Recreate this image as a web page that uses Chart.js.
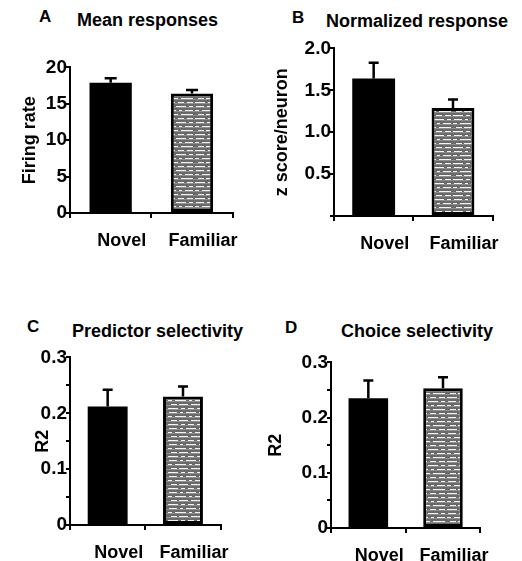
<!DOCTYPE html>
<html lang="en">
  <head>
    <meta charset="UTF-8">
    <title>Novel vs familiar</title>
    <script src="https://cdn.jsdelivr.net/npm/chart.js"></script>
    <style>
      body { margin: 0; background: #fff; }
      #fig { position: relative; width: 522px; height: 561px; font-family: "Liberation Sans", Arial, sans-serif; font-weight: bold; color: #000; }
      .box { position: absolute; }
      .lbl { position: absolute; line-height: 1; white-space: nowrap; }
      .let { font-size: 17px; }
      .ttl { font-size: 18px; }
    </style>
  </head>
  <body>
    <div id="fig">
      <span class="lbl let" style="left:39px;top:8px">A</span>
      <span class="lbl ttl" style="left:77px;top:11px">Mean responses</span>
      <span class="lbl let" style="left:292px;top:9px">B</span>
      <span class="lbl ttl" style="left:326px;top:12px">Normalized response</span>
      <span class="lbl let" style="left:27px;top:318px">C</span>
      <span class="lbl ttl" style="left:72px;top:322px">Predictor selectivity</span>
      <span class="lbl let" style="left:285px;top:319px">D</span>
      <span class="lbl ttl" style="left:341px;top:322px">Choice selectivity</span>

      <div class="box" style="left:10px;top:57px;width:229px;height:196px"><canvas id="cA"></canvas></div>
      <div class="box" style="left:268px;top:38px;width:232px;height:218px"><canvas id="cB"></canvas></div>
      <div class="box" style="left:20px;top:347px;width:210px;height:214px"><canvas id="cC"></canvas></div>
      <div class="box" style="left:262px;top:352px;width:228px;height:209px"><canvas id="cD"></canvas></div>
    </div>

    <script>
      const groups = ["Novel", "Familiar"];

      const firingRate = [17.9, 16.4];
      const firingRateErr = [0.6, 0.5];

      const zScore = [1.64, 1.29];
      const zScoreErr = [0.19, 0.10];

      const predictorR2 = [0.212, 0.23];
      const predictorR2Err = [0.03, 0.018];

      const choiceR2 = [0.235, 0.253];
      const choiceR2Err = [0.032, 0.02];

      const FONT = "'Liberation Sans', Arial, sans-serif";

      // grey fill with broken white horizontal streaks, staggered row to row
      function stripes() {
        const c = document.createElement("canvas");
        c.width = 37; c.height = 16;
        const g = c.getContext("2d");
        g.fillStyle = "#6a6a6a";
        g.fillRect(0, 0, 37, 16);
        const rows = [
          [[1, 8], [12, 3], [18, 10], [31, 4]],
          [[0, 4], [7, 11], [21, 3], [27, 8]],
          [[3, 6], [11, 9], [23, 12]],
          [[0, 10], [13, 4], [20, 6], [29, 6]]
        ];
        rows.forEach((segs, r) => {
          g.fillStyle = "#8e8e8e";
          g.fillRect(0, r * 4 + 2, 37, 1);
          g.fillStyle = "#f4f4f4";
          segs.forEach(([x, w]) => g.fillRect(x, r * 4 + 1, w, 1));
        });
        return g.createPattern(c, "repeat");
      }

      // upward error bars with a cap
      const errorBars = {
        id: "errorBars",
        afterDatasetsDraw(chart, args, opts) {
          const ctx = chart.ctx;
          const ys = chart.scales.y;
          const ds = chart.data.datasets[0];
          chart.getDatasetMeta(0).data.forEach((bar, i) => {
            const top = ys.getPixelForValue(ds.data[i] + opts.err[i]);
            ctx.save();
            ctx.strokeStyle = "#000";
            ctx.lineWidth = 2.5;
            ctx.beginPath();
            ctx.moveTo(bar.x, bar.y);
            ctx.lineTo(bar.x, top);
            ctx.moveTo(bar.x - opts.cap, top);
            ctx.lineTo(bar.x + opts.cap, top);
            ctx.stroke();
            ctx.restore();
          });
        }
      };

      function panel(id, values, errs, cfg) {
        new Chart(document.getElementById(id), {
          type: "bar",
          data: {
            labels: groups,
            datasets: [{
              data: values,
              backgroundColor: ["#000", stripes()],
              borderColor: "#000",
              borderWidth: [0, 3],
              borderSkipped: false,
              barPercentage: cfg.barPct,
              categoryPercentage: 1
            }]
          },
          options: {
            responsive: true,
            maintainAspectRatio: false,
            animation: false,
            events: [],
            layout: { autoPadding: false, padding: { top: 10, right: 2 } },
            plugins: {
              legend: { display: false },
              tooltip: { enabled: false },
              errorBars: { err: errs, cap: cfg.cap }
            },
            scales: {
              x: {
                afterFit: s => { s.height = cfg.xh; },
                border: { display: true, color: "#000", width: 2 },
                grid: { drawOnChartArea: false, drawTicks: true, tickLength: 5, color: "#000", lineWidth: 2 },
                ticks: { color: "#000", font: { family: FONT, size: 18, weight: "bold" }, padding: 12, labelOffset: 11 }
              },
              y: {
                min: 0,
                max: cfg.max,
                afterFit: s => { s.width = cfg.yw; },
                afterBuildTicks: s => { s.ticks = cfg.ticks.map(v => ({ value: v })); },
                border: { display: true, color: "#000", width: 2 },
                grid: { drawOnChartArea: false, drawTicks: true, tickLength: 4, color: "#000", lineWidth: 2 },
                ticks: { color: "#000", font: { family: FONT, size: 19, weight: "bold" }, padding: -1, callback: cfg.fmt },
                title: { display: true, text: cfg.title, color: "#000", font: { family: FONT, size: 18, weight: "bold" }, padding: { top: cfg.tpad, bottom: 0 } }
              }
            }
          },
          plugins: [errorBars]
        });
      }

      const r2Ticks = [0, 0.05, 0.1, 0.15, 0.2, 0.25, 0.3];
      const r2Fmt = v => {
        if (v === 0) return "0";
        const k = Math.round(v * 100);
        return k % 10 === 0 ? v.toFixed(1) : "";
      };

      panel("cA", firingRate, firingRateErr, {
        max: 20, ticks: [0, 5, 10, 15, 20], fmt: v => String(v),
        title: "Firing rate", yw: 60, xh: 40, barPct: 0.52, cap: 6, tpad: 9
      });
      panel("cB", zScore, zScoreErr, {
        max: 2, ticks: [0, 0.5, 1, 1.5, 2], fmt: v => (v === 0 ? "" : v.toFixed(1)),
        title: "z score/neuron", yw: 66, xh: 40, barPct: 0.54, cap: 5, tpad: 3
      });
      panel("cC", predictorR2, predictorR2Err, {
        max: 0.3, ticks: r2Ticks, fmt: r2Fmt,
        title: "R2", yw: 50, xh: 36, barPct: 0.53, cap: 5, tpad: 12
      });
      panel("cD", choiceR2, choiceR2Err, {
        max: 0.3, ticks: r2Ticks, fmt: r2Fmt,
        title: "R2", yw: 69, xh: 33, barPct: 0.53, cap: 5, tpad: 3
      });
    </script>
  </body>
</html>
